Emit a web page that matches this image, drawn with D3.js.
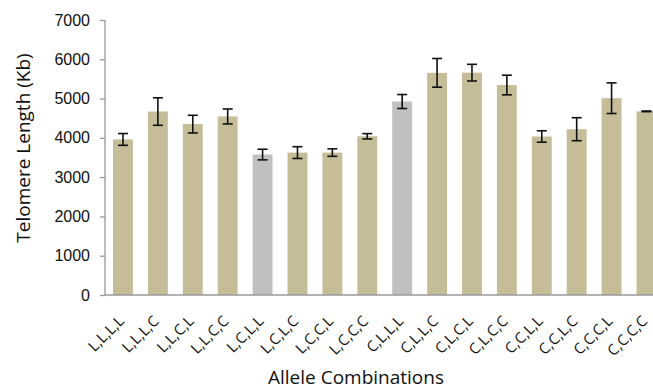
<!DOCTYPE html>
<html>
<head>
<meta charset="utf-8">
<script src="https://cdn.jsdelivr.net/npm/d3@7"></script>
<style>
  html, body { margin: 0; padding: 0; background: #fff; }
  svg { display: block; font-family: "Open Sans", "Liberation Sans", sans-serif; }
</style>
</head>
<body>
<svg id="chart" width="653" height="390"></svg>
<script>
// Allele combinations on the x axis
const categories = ["L,L,L,L","L,L,L,C","L,L,C,L","L,L,C,C","L,C,L,L","L,C,L,C","L,C,C,L","L,C,C,C",
                    "C,L,L,L","C,L,L,C","C,L,C,L","C,L,C,C","C,C,L,L","C,C,L,C","C,C,C,L","C,C,C,C"];
// Mean telomere length (Kb) per combination
const means = [3960, 4670, 4350, 4545, 3575, 3625, 3625, 4040, 4925, 5655, 5660, 5345, 4035, 4220, 5010, 4675];
// Error (± one SE)
const errors = [150, 350, 225, 190, 135, 150, 95, 68, 178, 365, 212, 250, 145, 293, 390, 8];
// Combinations highlighted in grey
const highlighted = ["L,C,L,L", "C,L,L,L"];
const yTicks = [0, 1000, 2000, 3000, 4000, 5000, 6000, 7000];

const svg = d3.select("#chart");
const x0 = 105, yBase = 295, yTop = 20;
const step = 34.9;

const x = d3.scaleBand()
  .domain(categories)
  .range([x0, x0 + step * (16 - 0.43 + 2 * 0.23)])
  .paddingInner(0.43)
  .paddingOuter(0.23);

const y = d3.scaleLinear().domain([0, 7000]).range([yBase, yTop]);

const tan = "#c5bd97", grey = "#c0c0c0", axisColor = "#9a9a9a";

// bars
svg.append("g").selectAll("rect")
  .data(categories)
  .join("rect")
  .attr("x", d => x(d))
  .attr("y", (d, i) => y(means[i]))
  .attr("width", x.bandwidth())
  .attr("height", (d, i) => y(0) - y(means[i]))
  .attr("fill", d => highlighted.includes(d) ? grey : tan);

// error bars
const eb = svg.append("g").attr("stroke", "#111").attr("stroke-width", 1.6);
categories.forEach((c, i) => {
  const cx = x(c) + x.bandwidth() / 2;
  const hi = y(means[i] + errors[i]), lo = y(means[i] - errors[i]);
  eb.append("line").attr("x1", cx).attr("x2", cx).attr("y1", hi).attr("y2", lo);
  eb.append("line").attr("x1", cx - 5).attr("x2", cx + 5).attr("y1", hi).attr("y2", hi);
  eb.append("line").attr("x1", cx - 5).attr("x2", cx + 5).attr("y1", lo).attr("y2", lo);
});

// y axis
const yAxis = svg.append("g")
  .attr("transform", `translate(${x0},0)`)
  .call(d3.axisLeft(y).tickValues(yTicks).tickFormat(d3.format("d")).tickSize(5).tickPadding(10));
yAxis.select(".domain").attr("stroke", axisColor).attr("stroke-width", 1.3).attr("d", `M0,${yTop}V${yBase}`);
yAxis.selectAll(".tick line").attr("stroke", axisColor).attr("stroke-width", 1.3);
yAxis.selectAll(".tick text").attr("fill", "#111").style("font-size", "16px");

// x axis line
svg.append("line")
  .attr("x1", x0).attr("x2", 653).attr("y1", yBase).attr("y2", yBase)
  .attr("stroke", axisColor).attr("stroke-width", 1.3);

// rotated category labels
svg.append("g").selectAll("text")
  .data(categories)
  .join("text")
  .attr("transform", d => `translate(${x(d) + x.bandwidth() / 2 + 2},${yBase + 27}) rotate(-45)`)
  .attr("text-anchor", "end")
  .attr("fill", "#111")
  .style("font-size", "15px")
  .text(d => d);

// axis titles
svg.append("text")
  .attr("transform", `translate(30,148) rotate(-90)`)
  .attr("text-anchor", "middle")
  .attr("fill", "#111")
  .style("font-size", "19px")
  .text("Telomere Length (Kb)");

svg.append("text")
  .attr("x", 356).attr("y", 384)
  .attr("text-anchor", "middle")
  .attr("fill", "#111")
  .style("font-size", "19px")
  .text("Allele Combinations");
</script>
</body>
</html>
